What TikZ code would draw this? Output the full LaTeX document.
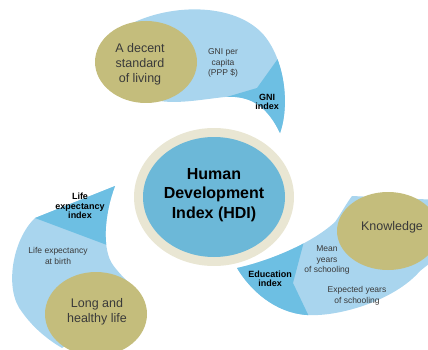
\documentclass[tikz,border=0pt]{standalone}
\usepackage{fontspec}
\setmainfont{Liberation Sans}
\usepackage{xcolor}
\usetikzlibrary{calc}

\definecolor{paleblue}{HTML}{A9D5EE}
\definecolor{deepblue}{HTML}{6DBFE3}
\definecolor{hdiblue}{HTML}{6CB8D8}
\definecolor{ringbeige}{HTML}{E9E6D3}
\definecolor{goldolive}{HTML}{C4BD7C}
\definecolor{inkgray}{HTML}{3A3A3A}

\begin{document}
\begin{tikzpicture}[x=1pt,y=-1pt]
            \tikzstyle{every node}+=[inner sep=0pt,align=center]
            \tikzstyle{tiny}=[font=\fontsize{8.5}{10.5}\selectfont,text=inkgray]
            \tikzstyle{tinybold}=[font=\fontsize{9}{9.5}\selectfont\bfseries,text=black]
            \tikzstyle{dimension}=[font=\fontsize{12.5}{15}\selectfont,text=inkgray]
            \useasboundingbox (0,0) rectangle (428,350);
            % top petal
            \def\toppetal{(120,30) .. controls (160,4) and (230,0) .. (262,33) .. controls (285,58) and (290,105) .. (280,133) .. controls (268,108) and (252,95) .. (225,97) .. controls (205,99) and (180,104) .. (160,101) -- (130,60) -- cycle}
            \fill [paleblue] \toppetal;
            \begin{scope}
            \clip \toppetal;
            \fill [deepblue] (213,101) -- (257,88) -- (282,53) -- (300,53) -- (300,145) -- (213,145) -- cycle;
            \end{scope}
            % left petal
            \def\leftpetal{(115,186) -- (35,218) .. controls (12,240) and (4,290) .. (22,312) .. controls (32,326) and (45,338) .. (62,348) -- (140,300) -- (132,286) .. controls (124,278) and (118,272) .. (113,265) .. controls (102,250) and (104,215) .. (115,186) -- cycle}
            \fill [paleblue] \leftpetal;
            \begin{scope}
            \clip \leftpetal;
            \fill [deepblue] (20,212.4) -- (125,251.75) -- (125,175) -- (20,175) -- cycle;
            \end{scope}
            % right petal
            \def\rightpetal{(237,268) .. controls (265,262) and (310,245) .. (335,222) .. controls (342,212) and (346,204) .. (352,196) -- (440,200) -- (440,255) .. controls (432,262) and (426,266) .. (420,271) .. controls (395,300) and (340,317) .. (307,315) .. controls (275,313) and (250,290) .. (237,268) -- cycle}
            \fill [paleblue] \rightpetal;
            \begin{scope}
            \clip \rightpetal;
            \fill [deepblue] (225,230) -- (307,230) -- (293,283) -- (313,325) -- (225,325) -- cycle;
            \end{scope}
            % centre
            \fill [ringbeige] (214,197) ellipse (80 and 69);
            \fill [hdiblue] (214,197) ellipse (71 and 60);
            \node [font=\fontsize{16}{19.5}\selectfont\bfseries] (hdi) at (214,195) {Human\\Development\\Index (HDI)};
            % dimensions
            \fill [goldolive] (146,62) ellipse (51 and 41);
            \fill [goldolive] (96,314) ellipse (51 and 42);
            \fill [goldolive] (388,231) ellipse (51 and 39);
            \node [dimension] (living) at (140,64) {A decent\\standard\\of living};
            \node [dimension] (health) at (97,312) {Long and\\healthy life};
            \node [dimension] (knowledge) at (392,227) {Knowledge};
            % indicators
            \node [tiny] (gni) at (223,63) {GNI per\\capita\\(PPP \$)};
            \node [tinybold] (gniidx) at (267,102) {GNI\\index};
            \node [tinybold] (lifeidx) at (80,206) {Life\\expectancy\\index};
            \node [tiny] (lifeexp) at (58,256) {Life expectancy\\at birth};
            \node [tinybold] (eduidx) at (270,279) {Education\\index};
            \node [tiny] (meanyrs) at (327,260) {Mean\\years\\of schooling};
            \node [tiny] (expyrs) at (357,296) {Expected years\\of schooling};
\end{tikzpicture}
\end{document}
